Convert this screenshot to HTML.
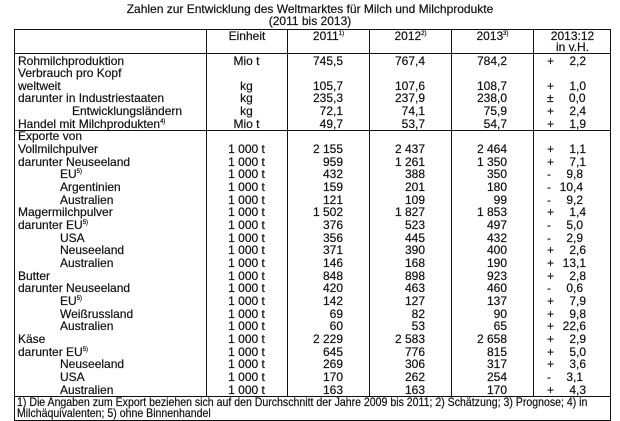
<!DOCTYPE html>
<html><head><meta charset="utf-8">
<style>
body{margin:0;width:620px;height:420px;background:#fff;position:relative;overflow:hidden;font-family:"Liberation Sans Narrow","Liberation Sans",sans-serif;color:#111;}
.t{position:absolute;left:0;width:620px;text-align:center;font-size:12px;line-height:12px;-webkit-text-stroke:0.2px #111;}
.frame{position:absolute;left:14px;top:29px;width:597px;height:392px;border:1.5px solid #111;box-sizing:border-box;}
.hl{position:absolute;left:14px;width:597px;height:0;border-top:1.5px solid #111;}
.vl{position:absolute;top:29px;height:367px;width:0;border-left:1.5px solid #111;}
table{position:absolute;left:15px;top:54.5px;border-collapse:collapse;table-layout:fixed;font-size:12px;-webkit-text-stroke:0.2px #111;}
td{height:12.65px;padding:0;line-height:12.65px;white-space:nowrap;overflow:visible;}
td.c{text-align:center;}
td.n{text-align:right;padding-right:26px;}
td.p{text-align:left;padding-left:14px;}
td.p span{display:inline-block;width:32px;text-align:right;}
.i1{padding-left:45px;}
sup{font-size:6px;vertical-align:5px;line-height:0;}
.hd{position:absolute;top:31px;font-size:12px;text-align:center;line-height:11px;-webkit-text-stroke:0.2px #111;}
.fn{position:absolute;left:17px;top:397px;font-size:12px;line-height:11px;white-space:nowrap;transform:scaleX(0.88);transform-origin:0 0;-webkit-text-stroke:0.2px #111;}
</style></head><body>
<div class="t" style="top:3px">Zahlen zur Entwicklung des Weltmarktes für Milch und Milchprodukte</div>
<div class="t" style="top:15px">(2011 bis 2013)</div>
<div class="frame"></div>
<div class="hl" style="top:53px"></div>
<div class="hl" style="top:130px"></div>
<div class="hl" style="top:396px"></div>
<div class="vl" style="left:206px"></div>
<div class="vl" style="left:287px"></div>
<div class="vl" style="left:369px"></div>
<div class="vl" style="left:451px"></div>
<div class="vl" style="left:533px"></div>
<div class="hd" style="left:207px;width:80px">Einheit</div>
<div class="hd" style="left:288px;width:81px">2011<sup>1)</sup></div>
<div class="hd" style="left:370px;width:81px">2012<sup>2)</sup></div>
<div class="hd" style="left:452px;width:81px">2013<sup>3)</sup></div>
<div class="hd" style="left:534px;width:77px">2013:12<br>in v.H.</div>
<table>
<colgroup><col style="width:191px"><col style="width:81px"><col style="width:82px"><col style="width:82px"><col style="width:82px"><col style="width:78px"></colgroup>
<tr><td style="padding-left:3px">Rohmilchproduktion</td><td class="c">Mio t</td><td class="n">745,5</td><td class="n">767,4</td><td class="n">784,2</td><td class="p">+<span>2,2</span></td></tr>
<tr><td style="padding-left:3px">Verbrauch pro Kopf</td><td></td><td></td><td></td><td></td><td></td></tr>
<tr><td style="padding-left:3px">weltweit</td><td class="c">kg</td><td class="n">105,7</td><td class="n">107,6</td><td class="n">108,7</td><td class="p">+<span>1,0</span></td></tr>
<tr><td style="padding-left:3px">darunter in Industriestaaten</td><td class="c">kg</td><td class="n">235,3</td><td class="n">237,9</td><td class="n">238,0</td><td class="p">±<span>0,0</span></td></tr>
<tr><td style="padding-left:57px">Entwicklungsländern</td><td class="c">kg</td><td class="n">72,1</td><td class="n">74,1</td><td class="n">75,9</td><td class="p">+<span>2,4</span></td></tr>
<tr><td style="padding-left:3px">Handel mit Milchprodukten<sup>4)</sup></td><td class="c">Mio t</td><td class="n">49,7</td><td class="n">53,7</td><td class="n">54,7</td><td class="p">+<span>1,9</span></td></tr>
<tr><td style="padding-left:3px">Exporte von</td><td></td><td></td><td></td><td></td><td></td></tr>
<tr><td style="padding-left:3px">Vollmilchpulver</td><td class="c">1 000 t</td><td class="n">2 155</td><td class="n">2 437</td><td class="n">2 464</td><td class="p">+<span>1,1</span></td></tr>
<tr><td style="padding-left:3px">darunter Neuseeland</td><td class="c">1 000 t</td><td class="n">959</td><td class="n">1 261</td><td class="n">1 350</td><td class="p">+<span>7,1</span></td></tr>
<tr><td class="i1">EU<sup>5)</sup></td><td class="c">1 000 t</td><td class="n">432</td><td class="n">388</td><td class="n">350</td><td class="p">-<span>9,8</span></td></tr>
<tr><td class="i1">Argentinien</td><td class="c">1 000 t</td><td class="n">159</td><td class="n">201</td><td class="n">180</td><td class="p">-<span>10,4</span></td></tr>
<tr><td class="i1">Australien</td><td class="c">1 000 t</td><td class="n">121</td><td class="n">109</td><td class="n">99</td><td class="p">-<span>9,2</span></td></tr>
<tr><td style="padding-left:3px">Magermilchpulver</td><td class="c">1 000 t</td><td class="n">1 502</td><td class="n">1 827</td><td class="n">1 853</td><td class="p">+<span>1,4</span></td></tr>
<tr><td style="padding-left:3px">darunter EU<sup>5)</sup></td><td class="c">1 000 t</td><td class="n">376</td><td class="n">523</td><td class="n">497</td><td class="p">-<span>5,0</span></td></tr>
<tr><td class="i1">USA</td><td class="c">1 000 t</td><td class="n">356</td><td class="n">445</td><td class="n">432</td><td class="p">-<span>2,9</span></td></tr>
<tr><td class="i1">Neuseeland</td><td class="c">1 000 t</td><td class="n">371</td><td class="n">390</td><td class="n">400</td><td class="p">+<span>2,6</span></td></tr>
<tr><td class="i1">Australien</td><td class="c">1 000 t</td><td class="n">146</td><td class="n">168</td><td class="n">190</td><td class="p">+<span>13,1</span></td></tr>
<tr><td style="padding-left:3px">Butter</td><td class="c">1 000 t</td><td class="n">848</td><td class="n">898</td><td class="n">923</td><td class="p">+<span>2,8</span></td></tr>
<tr><td style="padding-left:3px">darunter Neuseeland</td><td class="c">1 000 t</td><td class="n">420</td><td class="n">463</td><td class="n">460</td><td class="p">-<span>0,6</span></td></tr>
<tr><td class="i1">EU<sup>5)</sup></td><td class="c">1 000 t</td><td class="n">142</td><td class="n">127</td><td class="n">137</td><td class="p">+<span>7,9</span></td></tr>
<tr><td class="i1">Weißrussland</td><td class="c">1 000 t</td><td class="n">69</td><td class="n">82</td><td class="n">90</td><td class="p">+<span>9,8</span></td></tr>
<tr><td class="i1">Australien</td><td class="c">1 000 t</td><td class="n">60</td><td class="n">53</td><td class="n">65</td><td class="p">+<span>22,6</span></td></tr>
<tr><td style="padding-left:3px">Käse</td><td class="c">1 000 t</td><td class="n">2 229</td><td class="n">2 583</td><td class="n">2 658</td><td class="p">+<span>2,9</span></td></tr>
<tr><td style="padding-left:3px">darunter EU<sup>5)</sup></td><td class="c">1 000 t</td><td class="n">645</td><td class="n">776</td><td class="n">815</td><td class="p">+<span>5,0</span></td></tr>
<tr><td class="i1">Neuseeland</td><td class="c">1 000 t</td><td class="n">269</td><td class="n">306</td><td class="n">317</td><td class="p">+<span>3,6</span></td></tr>
<tr><td class="i1">USA</td><td class="c">1 000 t</td><td class="n">170</td><td class="n">262</td><td class="n">254</td><td class="p">-<span>3,1</span></td></tr>
<tr><td class="i1">Australien</td><td class="c">1 000 t</td><td class="n">163</td><td class="n">163</td><td class="n">170</td><td class="p">+<span>4,3</span></td></tr>
</table>
<div class="fn">1) Die Angaben zum Export beziehen sich auf den Durchschnitt der Jahre 2009 bis 2011; 2) Schätzung; 3) Prognose; 4) in<br>Milchäquivalenten; 5) ohne Binnenhandel</div>
</body></html>
